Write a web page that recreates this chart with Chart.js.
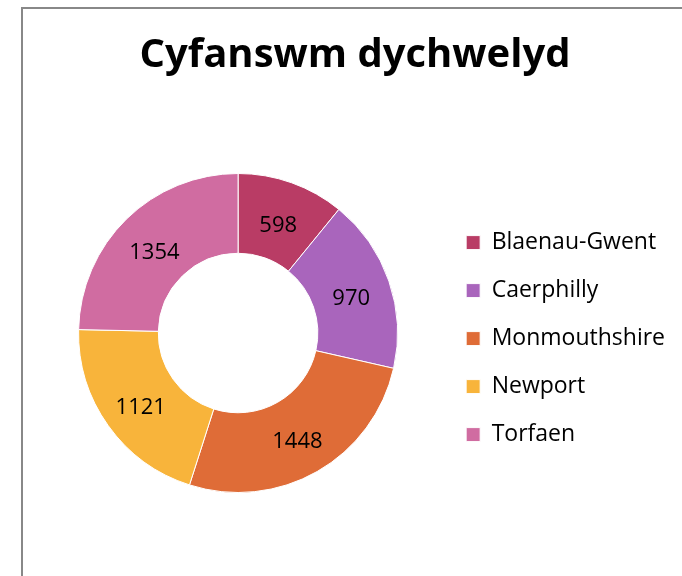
<!DOCTYPE html>
<html>
<head>
<meta charset="utf-8">
<script src="https://cdn.jsdelivr.net/npm/chart.js@4"></script>
<style>
  html, body { margin: 0; padding: 0; background: #fff; overflow: hidden; }
  #frame { position: absolute; left: 21px; top: 7px; width: 700px; height: 600px;
           border-top: 2px solid #888; border-left: 2px solid #888; }
  #box { position: absolute; left: 0; top: 0; width: 682px; height: 576px; }
</style>
</head>
<body>
<div id="frame"></div>
<div id="box"><canvas id="chart"></canvas></div>
<script>
// data
const labels = ["Blaenau-Gwent", "Caerphilly", "Monmouthshire", "Newport", "Torfaen"];
const values = [598, 970, 1448, 1121, 1354];
const sliceColors = ["#B93C65", "#A965BC", "#DF6C37", "#F8B43B", "#D06CA1"];
const titleText = "Cyfanswm dychwelyd";

//draws the value in the middle of each slice
const sliceLabels = {
  id: "sliceLabels",
  afterDatasetsDraw(chart) {
    const ctx = chart.ctx;
    const meta = chart.getDatasetMeta(0);
    ctx.save();
    ctx.font = "22px 'Open Sans'";
    ctx.fillStyle = "#000";
    ctx.textAlign = "center";
    ctx.textBaseline = "middle";
    meta.data.forEach((arc, i) => {
      const p = arc.tooltipPosition();
      // small nudge down, text sits a bit low in the original
      ctx.fillText(String(chart.data.datasets[0].data[i]), p.x, p.y + 5);
    });
    ctx.restore();
  }
};

new Chart(document.getElementById("chart"), {
  type: "doughnut",
  plugins: [sliceLabels],
  data: {
    labels: labels,
    datasets: [{
      data: values,
      backgroundColor: sliceColors,
      borderColor: "#fff",
      borderWidth: 1
    }]
  },
  options: {
    responsive: true,
    maintainAspectRatio: false,
    animation: false,
    cutout: "50%",
    layout: { padding: { left: 35, right: 7, top: 0, bottom: 83 } },
    plugins: {
      tooltip: { enabled: false },
      title: {
        display: true,
        text: titleText,
        color: "#000",
        font: { family: "Open Sans", size: 40, weight: "bold" },
        padding: { top: 31.5, bottom: 93.5 }
      },
      legend: {
        position: "right",
        fullSize: false,
        //empty title only to push the items down a little
        title: { display: true, text: "", font: { size: 6 }, padding: 2 },
        labels: {
          color: "#000",
          font: { family: "Open Sans", size: 23 },
          boxWidth: 14,
          boxHeight: 14,
          padding: 25
        }
      }
    }
  }
});
</script>
</body>
</html>
